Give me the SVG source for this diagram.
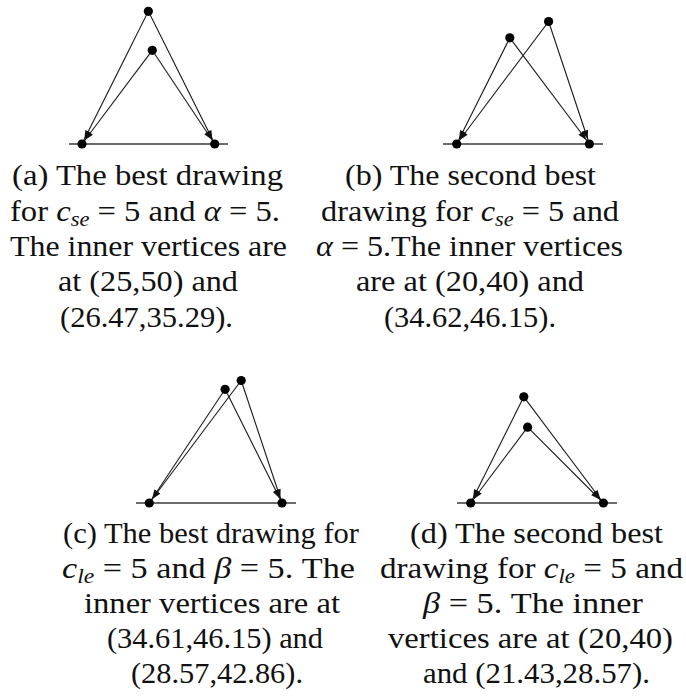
<svg xmlns="http://www.w3.org/2000/svg" width="686" height="698" viewBox="0 0 686 698">
<defs>
<style>
.edge{stroke:#1a1a1a;stroke-width:1.1;fill:none;marker-end:url(#arr)}
.base{stroke:#3a3a3a;stroke-width:1.4;fill:none}
.dot{fill:#000}
text{font-family:"Liberation Serif","Times New Roman",serif;font-size:29px;fill:#111}
.m{font-style:italic}
.sub{font-style:italic;font-size:20px}
</style>
<marker id="arr" markerUnits="userSpaceOnUse" markerWidth="16" markerHeight="8" refX="14" refY="3.2" orient="auto" overflow="visible">
<path d="M0,0 L9,3.2 L0,6.4 Z" fill="#111"/>
</marker>
</defs>
<rect width="686" height="698" fill="#fff"/>

<g id="connectors">
<!-- (a) -->
<line class="base" x1="69" y1="144" x2="228" y2="144"/>
<line class="edge" x1="148.35" y1="11.3" x2="82" y2="144"/>
<line class="edge" x1="148.35" y1="11.3" x2="214.7" y2="144"/>
<line class="edge" x1="152.25" y1="50.3" x2="82" y2="144"/>
<line class="edge" x1="152.25" y1="50.3" x2="214.7" y2="144"/>
<!-- (b) -->
<line class="base" x1="443" y1="144" x2="603" y2="144"/>
<line class="edge" x1="509.8" y1="37.8" x2="456.7" y2="144"/>
<line class="edge" x1="509.8" y1="37.8" x2="589.4" y2="144"/>
<line class="edge" x1="548.6" y1="21.5" x2="456.7" y2="144"/>
<line class="edge" x1="548.6" y1="21.5" x2="589.4" y2="144"/>
<!-- (c) -->
<line class="base" x1="136" y1="503" x2="296" y2="503"/>
<line class="edge" x1="225.1" y1="389.3" x2="149.3" y2="503"/>
<line class="edge" x1="225.1" y1="389.3" x2="282" y2="503"/>
<line class="edge" x1="241.2" y1="380.5" x2="149.3" y2="503"/>
<line class="edge" x1="241.2" y1="380.5" x2="282" y2="503"/>
<!-- (d) -->
<line class="base" x1="457" y1="503" x2="617" y2="503"/>
<line class="edge" x1="523.8" y1="396.8" x2="470.7" y2="503"/>
<line class="edge" x1="523.8" y1="396.8" x2="603.4" y2="503"/>
<line class="edge" x1="527.6" y1="427.2" x2="470.7" y2="503"/>
<line class="edge" x1="527.6" y1="427.2" x2="603.4" y2="503"/>
</g>

<g id="a-top"><circle class="dot" cx="148.35" cy="11.3" r="4.6"/></g>
<g id="a-inner"><circle class="dot" cx="152.25" cy="50.3" r="4.6"/></g>
<g id="a-left"><circle class="dot" cx="82" cy="144" r="4.6"/></g>
<g id="a-right"><circle class="dot" cx="214.7" cy="144" r="4.6"/></g>

<g id="b-v1"><circle class="dot" cx="509.8" cy="37.8" r="4.6"/></g>
<g id="b-v2"><circle class="dot" cx="548.6" cy="21.5" r="4.6"/></g>
<g id="b-left"><circle class="dot" cx="456.7" cy="144" r="4.6"/></g>
<g id="b-right"><circle class="dot" cx="589.4" cy="144" r="4.6"/></g>

<g id="c-v1"><circle class="dot" cx="225.1" cy="389.3" r="4.6"/></g>
<g id="c-v2"><circle class="dot" cx="241.2" cy="380.5" r="4.6"/></g>
<g id="c-left"><circle class="dot" cx="149.3" cy="503" r="4.6"/></g>
<g id="c-right"><circle class="dot" cx="282" cy="503" r="4.6"/></g>

<g id="d-top"><circle class="dot" cx="523.8" cy="396.8" r="4.6"/></g>
<g id="d-inner"><circle class="dot" cx="527.6" cy="427.2" r="4.6"/></g>
<g id="d-left"><circle class="dot" cx="470.7" cy="503" r="4.6"/></g>
<g id="d-right"><circle class="dot" cx="603.4" cy="503" r="4.6"/></g>

<g id="caption-a">
<text x="12" y="185" textLength="271" lengthAdjust="spacingAndGlyphs">(a) The best drawing</text>
<text x="10" y="220.5" textLength="270" lengthAdjust="spacingAndGlyphs">for <tspan class="m">c</tspan><tspan class="sub" dy="5">se</tspan><tspan dy="-5"> = 5 and </tspan><tspan class="m">α</tspan> = 5.</text>
<text x="10" y="256" textLength="277" lengthAdjust="spacingAndGlyphs">The inner vertices are</text>
<text x="58" y="291" textLength="180" lengthAdjust="spacingAndGlyphs">at (25,50) and</text>
<text x="60" y="326.5" textLength="173" lengthAdjust="spacingAndGlyphs">(26.47,35.29).</text>
</g>

<g id="caption-b">
<text x="345" y="185" textLength="251" lengthAdjust="spacingAndGlyphs">(b) The second best</text>
<text x="321" y="220.5" textLength="298" lengthAdjust="spacingAndGlyphs">drawing for <tspan class="m">c</tspan><tspan class="sub" dy="5">se</tspan><tspan dy="-5"> = 5 and</tspan></text>
<text x="316" y="256" textLength="307" lengthAdjust="spacingAndGlyphs"><tspan class="m">α</tspan> = 5.The inner vertices</text>
<text x="356" y="291" textLength="228" lengthAdjust="spacingAndGlyphs">are at (20,40) and</text>
<text x="384" y="326.5" textLength="172" lengthAdjust="spacingAndGlyphs">(34.62,46.15).</text>
</g>

<g id="caption-c">
<text x="63" y="543" textLength="296" lengthAdjust="spacingAndGlyphs">(c) The best drawing for</text>
<text x="62" y="578" textLength="293" lengthAdjust="spacingAndGlyphs"><tspan class="m">c</tspan><tspan class="sub" dy="5">le</tspan><tspan dy="-5"> = 5 and </tspan><tspan class="m">β</tspan> = 5. The</text>
<text x="84" y="613" textLength="256" lengthAdjust="spacingAndGlyphs">inner vertices are at</text>
<text x="107" y="648" textLength="216" lengthAdjust="spacingAndGlyphs">(34.61,46.15) and</text>
<text x="131" y="683" textLength="172" lengthAdjust="spacingAndGlyphs">(28.57,42.86).</text>
</g>

<g id="caption-d">
<text x="410" y="543" textLength="253" lengthAdjust="spacingAndGlyphs">(d) The second best</text>
<text x="380" y="578" textLength="303" lengthAdjust="spacingAndGlyphs">drawing for <tspan class="m">c</tspan><tspan class="sub" dy="5">le</tspan><tspan dy="-5"> = 5 and</tspan></text>
<text x="423" y="613" textLength="220" lengthAdjust="spacingAndGlyphs"><tspan class="m">β</tspan> = 5. The inner</text>
<text x="388" y="648" textLength="285" lengthAdjust="spacingAndGlyphs">vertices are at (20,40)</text>
<text x="423" y="683" textLength="227" lengthAdjust="spacingAndGlyphs">and (21.43,28.57).</text>
</g>
</svg>
